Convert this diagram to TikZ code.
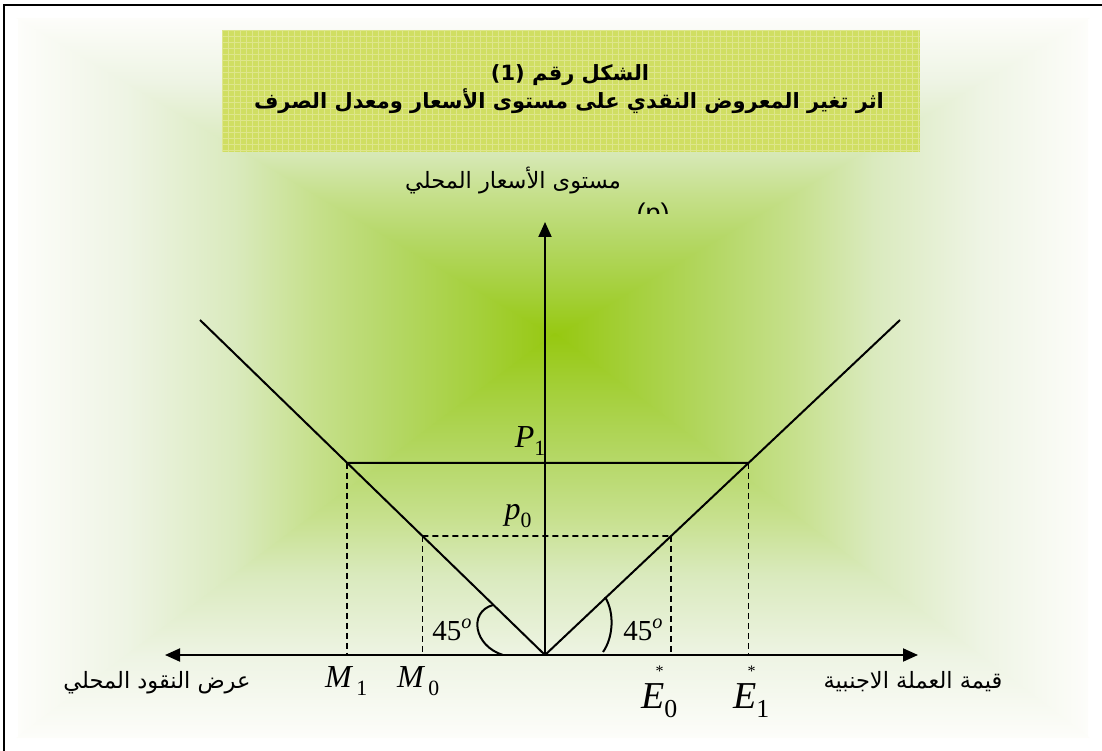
\documentclass[tikz,border=0pt]{standalone}
\usepackage{fontspec}
\setmainfont{Liberation Serif}
\newfontfamily\arabicfont[Script=Arabic]{DejaVu Sans}
\newfontfamily\sansf{Liberation Sans}
\TeXXeTstate=1
\usetikzlibrary{arrows.meta}
\definecolor{edgec}{RGB}{253,253,250}
\definecolor{ctrc}{RGB}{150,200,15}
\definecolor{g1}{RGB}{165,208,60}
\definecolor{g2}{RGB}{180,215,100}
\definecolor{g3}{RGB}{198,224,140}
\definecolor{g4}{RGB}{218,234,190}
\definecolor{g5}{RGB}{238,244,228}
\definecolor{titlec}{RGB}{208,222,98}
\definecolor{titleg}{RGB}{222,230,140}
\pgfdeclareverticalshading{rectgrad}{100bp}{color(0bp)=(ctrc); color(25bp)=(ctrc); color(32.5bp)=(g1); color(40bp)=(g2); color(47.5bp)=(g3); color(55bp)=(g4); color(65bp)=(g5); color(75bp)=(edgec); color(100bp)=(edgec)}
\newcommand\sbs[1]{\raisebox{-0.25em}{\scalebox{0.68}{#1}}}
\newcommand\sps[1]{\raisebox{0.42em}{\scalebox{0.7}{\textit{#1}}}}
\tikzset{
  ln/.style={line width=2pt},
  dsh/.style={line width=1.8pt, dash pattern=on 6pt off 4pt},
  tip/.style={-{Triangle[length=15pt,width=13pt]}},
  arlbl/.style={font=\arabicfont\fontsize{22.5}{26}\selectfont, inner sep=0pt},
  ttl/.style={font=\arabicfont\bfseries\fontsize{21}{26}\selectfont, inner sep=0pt},
  mlbl/.style={font=\fontsize{32}{34}\selectfont, inner sep=0pt},
  elbl/.style={font=\fontsize{38}{40}\selectfont, inner sep=0pt},
  alb/.style={font=\fontsize{29}{30}\selectfont, inner sep=0pt},
  bg/.style={shading=rectgrad},
}
\begin{document}
\begin{tikzpicture}[x=1pt,y=-1pt]
\useasboundingbox (0,0) rectangle (1102,751);
% background gradient
\coordinate (C) at (555,335);
\coordinate (TL) at (18,18);
\coordinate (TR) at (1088,18);
\coordinate (BL) at (18,738);
\coordinate (BR) at (1088,738);
\shade[bg, shading angle=90] (TL) -- (BL) -- ([xshift=2pt]C) -- cycle;
\shade[bg, shading angle=270] (TR) -- (BR) -- ([xshift=-2pt]C) -- cycle;
\shade[bg, shading angle=0] ([xshift=-2pt]TL) -- ([xshift=2pt]TR) -- ([yshift=-2pt]C) -- cycle;
\shade[bg, shading angle=180] ([xshift=-2pt]BL) -- ([xshift=2pt]BR) -- ([yshift=2pt]C) -- cycle;
% frame
\draw[line width=2pt] (4,751) -- (4,5) -- (1102,5);
% title box
\fill[titlec] (222,30) rectangle (920,152);
\begin{scope}
\clip (222,30) rectangle (920,152);
\draw[titleg, line width=0.7pt, step=6pt] (222,30) grid (920,152);
\end{scope}
\node[ttl] (t1) at (570,75) {\beginR الشكل رقم \beginL(1)\endL\endR};
\node[ttl] (t2) at (569,101) {\beginR اثر تغير المعروض النقدي على مستوى الأسعار ومعدل الصرف\endR};
% axis labels
\node[arlbl] (ylab) at (513,181) {\beginR مستوى الأسعار المحلي\endR};
\begin{scope}
\clip (600,190) rectangle (700,214);
\node[font=\sansf\fontsize{27}{28}\selectfont, inner sep=0pt, anchor=base] (plab) at (653,223) {(p)};
\end{scope}
\node[arlbl] (xll) at (157,683) {\beginR عرض النقود المحلي\endR};
\node[arlbl] (xrl) at (913,682) {\beginR قيمة العملة الاجنبية\endR};
% axes
\coordinate (O) at (545,655);
\coordinate (YT) at (545,222);
\coordinate (XL) at (165,655);
\coordinate (XR) at (918,655);
\draw[ln, tip] (O) -- (XR);
\draw[ln, tip] (O) -- (XL);
\draw[ln, tip] (O) -- (YT);
% V lines
\coordinate (LA) at (200,320);
\coordinate (RA) at (900,320);
\draw[ln] (O) -- (LA);
\draw[ln] (O) -- (RA);
% price levels
\coordinate (P1L) at (intersection of O--LA and 0,463--1000,463);
\coordinate (P1R) at (intersection of O--RA and 0,463--1000,463);
\coordinate (P0L) at (intersection of O--LA and 0,536--1000,536);
\coordinate (P0R) at (intersection of O--RA and 0,536--1000,536);
\draw[ln] (P1L) -- (P1R);
\draw[dsh] (P0L) -- (P0R);
\draw[dsh] (P1L) -- (P1L |- O);
\draw[dsh] (P1R) -- (P1R |- O);
\draw[dsh] (P0L) -- (P0L |- O);
\draw[dsh] (P0R) -- (P0R |- O);
% angle arcs
\coordinate (a1s) at (493,605);
\coordinate (a1e) at (503,655);
\draw[ln] (a1s) .. controls (468,612) and (474,646) .. (a1e);
\coordinate (a2s) at (605,597);
\coordinate (a2e) at (603,652);
\draw[ln] (a2s) .. controls (615,613) and (613,638) .. (a2e);
% labels
\node[mlbl] (P1) at (530,441) {\textit{P}\sbs{1}};
\node[mlbl] (p0) at (518,516) {\textit{p}\sbs{0}};
\node[alb] (a45l) at (452,630) {45\sps{o}};
\node[alb] (a45r) at (643,630) {45\sps{o}};
\node[mlbl, anchor=base west] (M1) at (325,687) {\textit{M}\kern3pt\sbs{1}};
\node[mlbl, anchor=base west] (M0) at (397,687) {\textit{M}\kern3pt\sbs{0}};
\node[elbl, anchor=base west] (E0) at (641,708) {\textit{E}\llap{\raisebox{0.82em}{\fontsize{16}{16}\selectfont *}\hspace{0.02em}}\sbs{0}};
\node[elbl, anchor=base west] (E1) at (733,708) {\textit{E}\llap{\raisebox{0.82em}{\fontsize{16}{16}\selectfont *}\hspace{0.02em}}\sbs{1}};
\end{tikzpicture}
\end{document}
